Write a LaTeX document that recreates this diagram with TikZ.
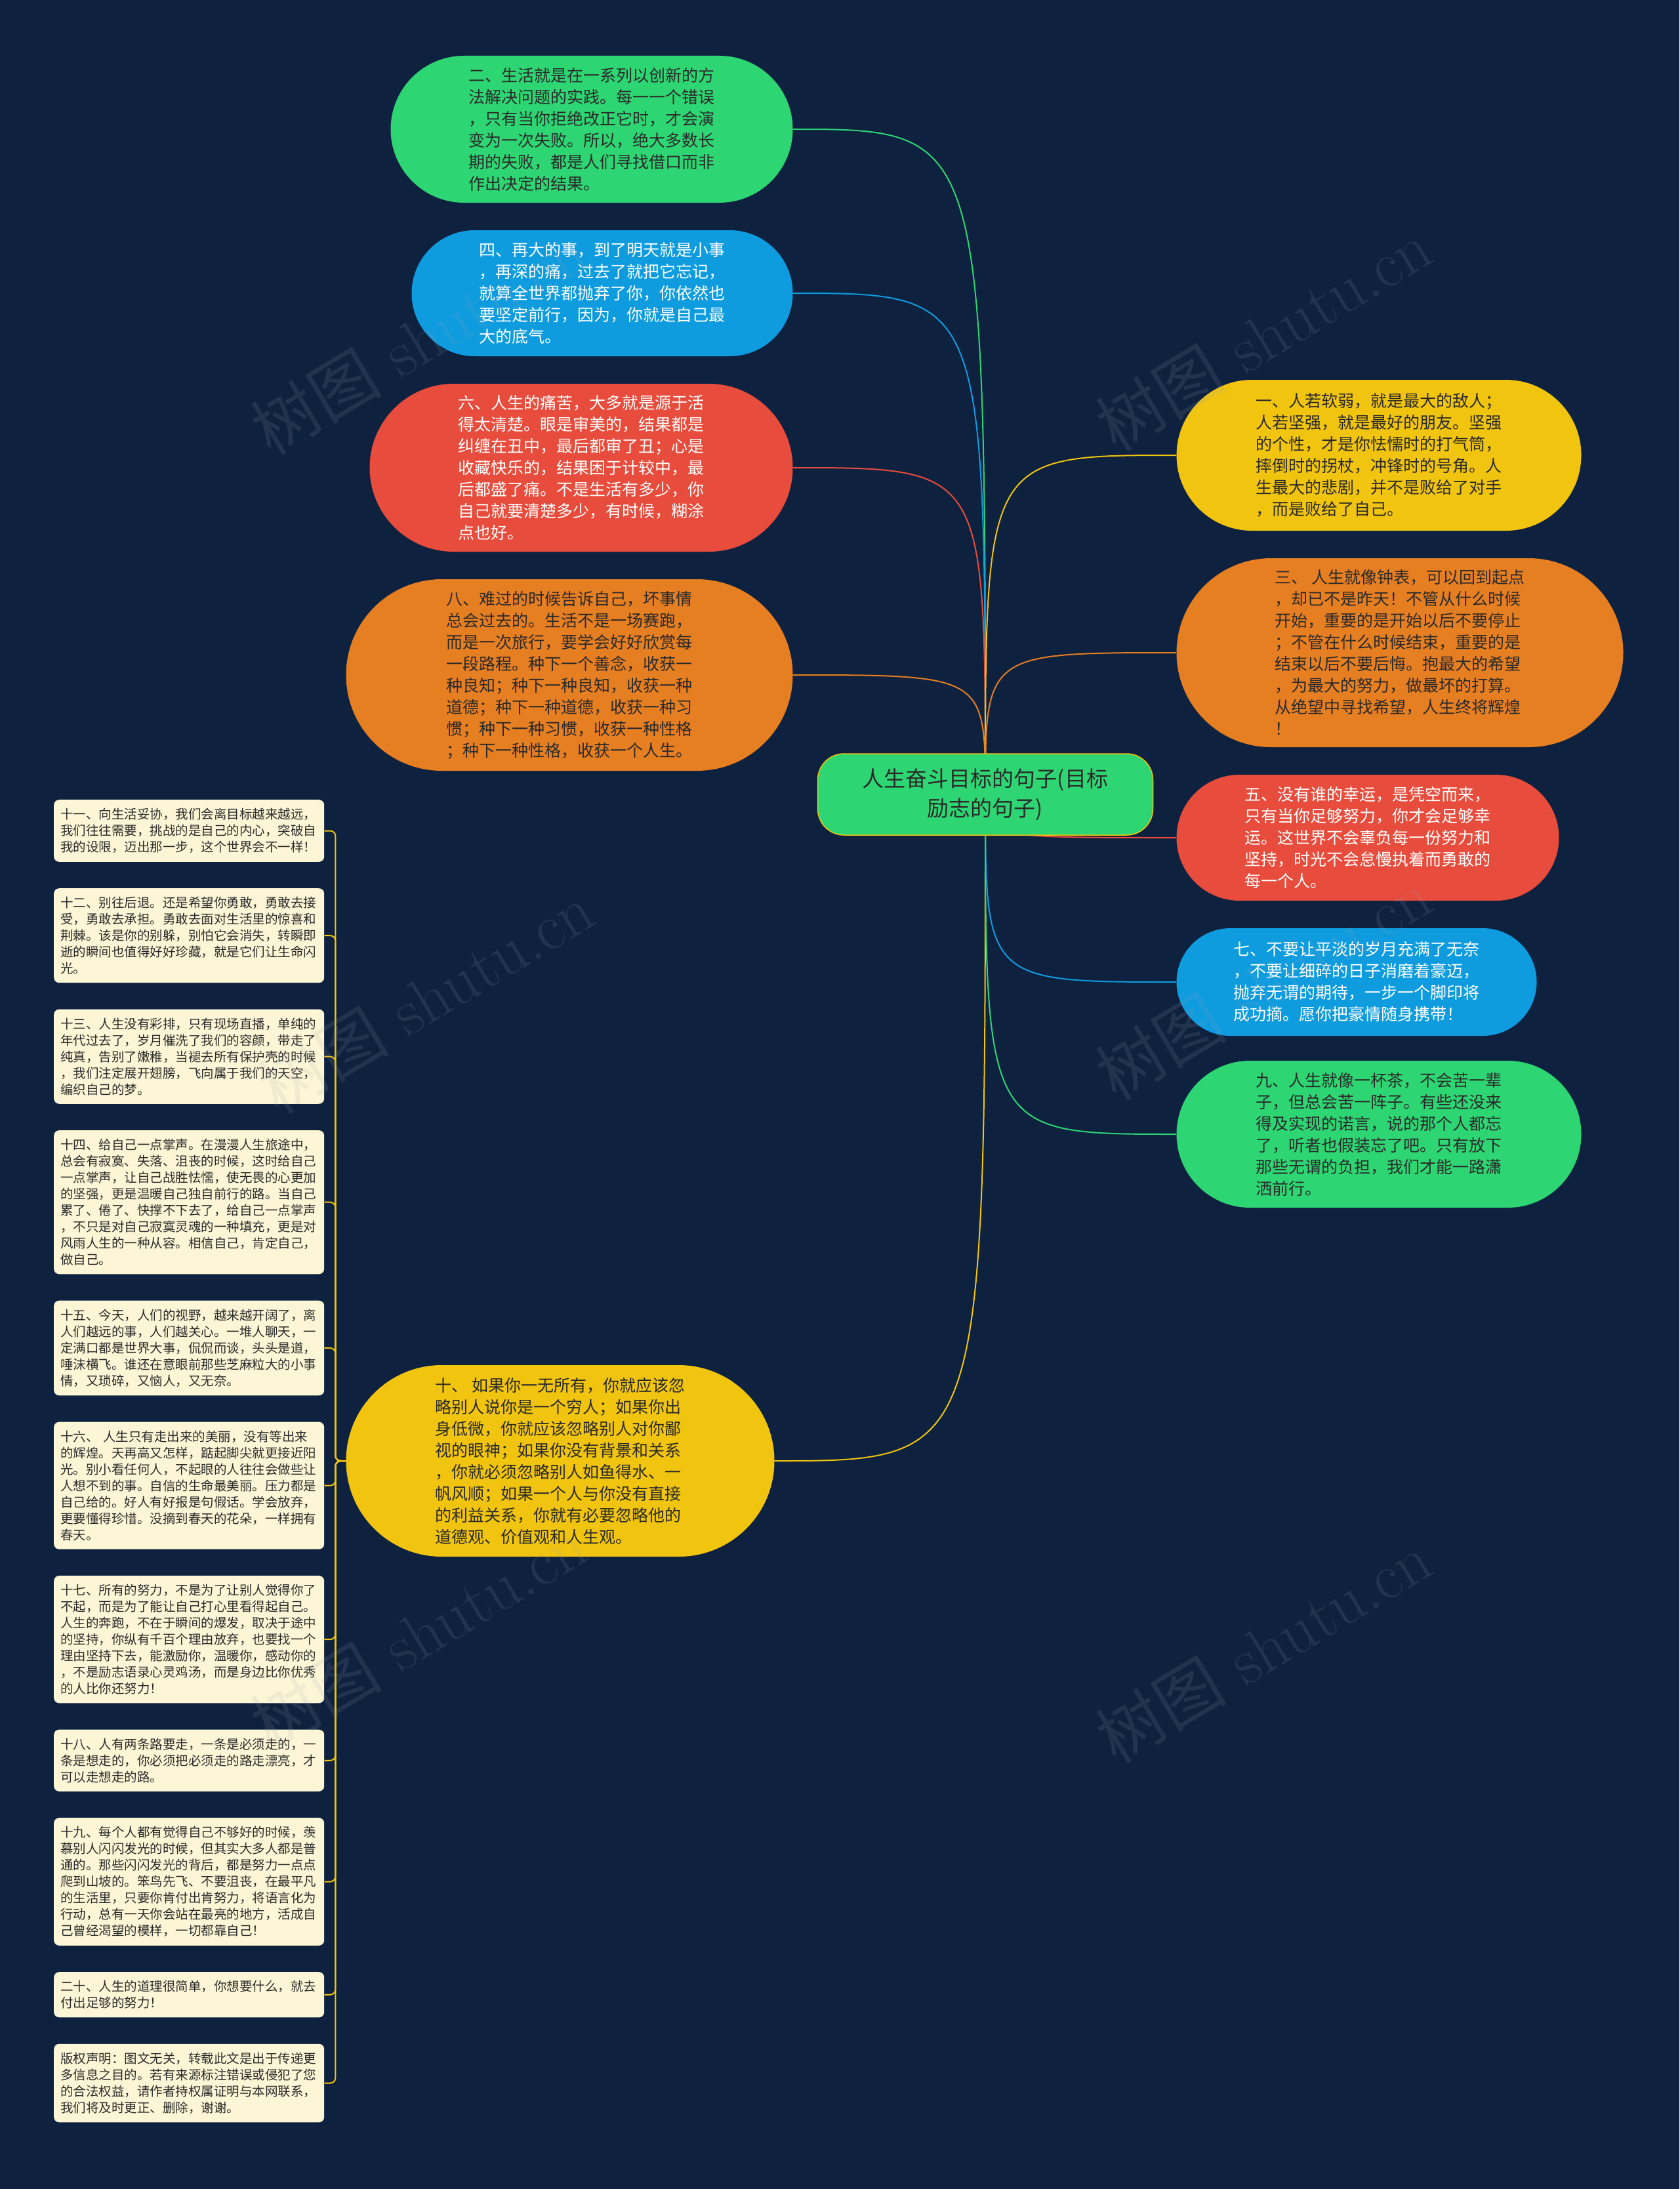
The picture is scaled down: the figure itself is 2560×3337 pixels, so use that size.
\documentclass[tikz,border=0pt]{standalone}
\usepackage{fontspec}
\newfontfamily\cjk{Noto Sans CJK SC}
\usetikzlibrary{positioning}
\definecolor{MyNavy}{HTML}{0E213F}
\definecolor{MyGreen}{HTML}{2ED573}
\definecolor{MyBlue}{HTML}{0E9CDF}
\definecolor{MyRed}{HTML}{E74C3C}
\definecolor{MyOrange}{HTML}{E67E22}
\definecolor{MyYellow}{HTML}{F1C40F}
\definecolor{MyCream}{HTML}{FDF6D6}
\definecolor{MyInk}{HTML}{2A2A2A}
\definecolor{MyMark}{HTML}{9AA3AE}
\pgfdeclarelayer{bg}
\pgfdeclarelayer{links}
\pgfdeclarelayer{marks}
\pgfsetlayers{bg,links,main,marks}

\begin{document}
\begin{tikzpicture}[x=1pt, y=-1pt,
	idea/.style={rounded corners=#1, inner sep=0pt, align=left, font=\cjk\fontsize{25}{33}\selectfont},
	note/.style={fill=MyCream, rounded corners=8pt, text width=392pt, inner xsep=10pt, inner ysep=13pt, align=left, font=\cjk\fontsize{19.5}{25}\selectfont, text=MyInk},
	link/.style={line width=2pt},
	wmark/.style={rotate=31, text=MyMark, text opacity=0.14, font=\fontsize{100}{100}\selectfont}]
	\begin{pgfonlayer}{bg}
		\fill[MyNavy] (0,0) rectangle (2560,3337);
	\end{pgfonlayer}
	\useasboundingbox (0,0) rectangle (2560,3337);
	
	\node[idea=40pt, fill=MyGreen, draw=MyYellow, line width=1.5pt, align=center, font=\cjk\fontsize{33}{45}\selectfont, text=MyInk, minimum width=511pt, minimum height=124pt] (root) at (1502,1211) {人生奋斗目标的句子(目标\\励志的句子)};
	
	% left side
	\node[idea=112pt, fill=MyGreen, text=MyInk, minimum width=613pt, minimum height=224pt] (two) at (902,197) {二、生活就是在一系列以创新的方\\法解决问题的实践。每一一个错误\\，只有当你拒绝改正它时，才会演\\变为一次失败。所以，绝大多数长\\期的失败，都是人们寻找借口而非\\作出决定的结果。};
	\node[idea=96pt, fill=MyBlue, text=white, minimum width=581pt, minimum height=192pt] (four) at (918,447) {四、再大的事，到了明天就是小事\\，再深的痛，过去了就把它忘记，\\就算全世界都抛弃了你，你依然也\\要坚定前行，因为，你就是自己最\\大的底气。};
	\node[idea=128pt, fill=MyRed, text=white, minimum width=645pt, minimum height=256pt] (six) at (886,713) {六、人生的痛苦，大多就是源于活\\得太清楚。眼是审美的，结果都是\\纠缠在丑中，最后都审了丑；心是\\收藏快乐的，结果困于计较中，最\\后都盛了痛。不是生活有多少，你\\自己就要清楚多少，有时候，糊涂\\点也好。};
	\node[idea=146pt, fill=MyOrange, text=MyInk, minimum width=681pt, minimum height=292pt] (eight) at (868,1029) {八、难过的时候告诉自己，坏事情\\总会过去的。生活不是一场赛跑，\\而是一次旅行，要学会好好欣赏每\\一段路程。种下一个善念，收获一\\种良知；种下一种良知，收获一种\\道德；种下一种道德，收获一种习\\惯；种下一种习惯，收获一种性格\\；种下一种性格，收获一个人生。};
	\node[idea=146pt, fill=MyYellow, text=MyInk, minimum width=653pt, minimum height=292pt] (ten) at (854,2227) {十、 如果你一无所有，你就应该忽\\略别人说你是一个穷人；如果你出\\身低微，你就应该忽略别人对你鄙\\视的眼神；如果你没有背景和关系\\，你就必须忽略别人如鱼得水、一\\帆风顺；如果一个人与你没有直接\\的利益关系，你就有必要忽略他的\\道德观、价值观和人生观。};
	
	% right side
	\node[idea=115pt, fill=MyYellow, text=MyInk, minimum width=617pt, minimum height=230pt] (one) at (2102,694) {一、人若软弱，就是最大的敌人；\\人若坚强，就是最好的朋友。坚强\\的个性，才是你怯懦时的打气筒，\\摔倒时的拐杖，冲锋时的号角。人\\生最大的悲剧，并不是败给了对手\\，而是败给了自己。};
	\node[idea=144pt, fill=MyOrange, text=MyInk, minimum width=681pt, minimum height=288pt] (three) at (2134,995) {三、 人生就像钟表，可以回到起点\\，却已不是昨天！不管从什么时候\\开始，重要的是开始以后不要停止\\；不管在什么时候结束，重要的是\\结束以后不要后悔。抱最大的希望\\，为最大的努力，做最坏的打算。\\从绝望中寻找希望，人生终将辉煌\\！};
	\node[idea=96pt, fill=MyRed, text=white, minimum width=583pt, minimum height=192pt] (five) at (2085,1277) {五、没有谁的幸运，是凭空而来，\\只有当你足够努力，你才会足够幸\\运。这世界不会辜负每一份努力和\\坚持，时光不会怠慢执着而勇敢的\\每一个人。};
	\node[idea=82pt, fill=MyBlue, text=white, minimum width=549pt, minimum height=164pt] (seven) at (2068,1497) {七、不要让平淡的岁月充满了无奈\\，不要让细碎的日子消磨着豪迈，\\抛弃无谓的期待，一步一个脚印将\\成功摘。愿你把豪情随身携带！};
	\node[idea=112pt, fill=MyGreen, text=MyInk, minimum width=617pt, minimum height=224pt] (nine) at (2102,1729) {九、人生就像一杯茶，不会苦一辈\\子，但总会苦一阵子。有些还没来\\得及实现的诺言，说的那个人都忘\\了，听者也假装忘了吧。只有放下\\那些无谓的负担，我们才能一路潇\\洒前行。};
	
	% notes under ten
	\node[note, anchor=north west] (n11) at (82,1219) {十一、向生活妥协，我们会离目标越来越远，\\我们往往需要，挑战的是自己的内心，突破自\\我的设限，迈出那一步，这个世界会不一样！};
	\node[note, below=40pt of n11] (n12) {十二、别往后退。还是希望你勇敢，勇敢去接\\受，勇敢去承担。勇敢去面对生活里的惊喜和\\荆棘。该是你的别躲，别怕它会消失，转瞬即\\逝的瞬间也值得好好珍藏，就是它们让生命闪\\光。};
	\node[note, below=40pt of n12] (n13) {十三、人生没有彩排，只有现场直播，单纯的\\年代过去了，岁月催洗了我们的容颜，带走了\\纯真，告别了嫩稚，当褪去所有保护壳的时候\\，我们注定展开翅膀，飞向属于我们的天空，\\编织自己的梦。};
	\node[note, below=40pt of n13] (n14) {十四、给自己一点掌声。在漫漫人生旅途中，\\总会有寂寞、失落、沮丧的时候，这时给自己\\一点掌声，让自己战胜怯懦，使无畏的心更加\\的坚强，更是温暖自己独自前行的路。当自己\\累了、倦了、快撑不下去了，给自己一点掌声\\，不只是对自己寂寞灵魂的一种填充，更是对\\风雨人生的一种从容。相信自己，肯定自己，\\做自己。};
	\node[note, below=40pt of n14] (n15) {十五、今天，人们的视野，越来越开阔了，离\\人们越远的事，人们越关心。一堆人聊天，一\\定满口都是世界大事，侃侃而谈，头头是道，\\唾沫横飞。谁还在意眼前那些芝麻粒大的小事\\情，又琐碎，又恼人，又无奈。};
	\node[note, below=40pt of n15] (n16) {十六、 人生只有走出来的美丽，没有等出来\\的辉煌。天再高又怎样，踮起脚尖就更接近阳\\光。别小看任何人，不起眼的人往往会做些让\\人想不到的事。自信的生命最美丽。压力都是\\自己给的。好人有好报是句假话。学会放弃，\\更要懂得珍惜。没摘到春天的花朵，一样拥有\\春天。};
	\node[note, below=40pt of n16] (n17) {十七、所有的努力，不是为了让别人觉得你了\\不起，而是为了能让自己打心里看得起自己。\\人生的奔跑，不在于瞬间的爆发，取决于途中\\的坚持，你纵有千百个理由放弃，也要找一个\\理由坚持下去，能激励你，温暖你，感动你的\\，不是励志语录心灵鸡汤，而是身边比你优秀\\的人比你还努力！};
	\node[note, below=40pt of n17] (n18) {十八、人有两条路要走，一条是必须走的，一\\条是想走的，你必须把必须走的路走漂亮，才\\可以走想走的路。};
	\node[note, below=40pt of n18] (n19) {十九、每个人都有觉得自己不够好的时候，羡\\慕别人闪闪发光的时候，但其实大多人都是普\\通的。那些闪闪发光的背后，都是努力一点点\\爬到山坡的。笨鸟先飞、不要沮丧，在最平凡\\的生活里，只要你肯付出肯努力，将语言化为\\行动，总有一天你会站在最亮的地方，活成自\\己曾经渴望的模样，一切都靠自己！};
	\node[note, below=40pt of n19] (n20) {二十、人生的道理很简单，你想要什么，就去\\付出足够的努力！};
	\node[note, below=40pt of n20] (copy) {版权声明：图文无关，转载此文是出于传递更\\多信息之目的。若有来源标注错误或侵犯了您\\的合法权益，请作者持权属证明与本网联系，\\我们将及时更正、删除，谢谢。};
	
	\begin{pgfonlayer}{links}
		\draw[link, MyGreen] (root.center) .. controls (root.center |- two.east) .. (two.east);
		\draw[link, MyBlue] (root.center) .. controls (root.center |- four.east) .. (four.east);
		\draw[link, MyRed] (root.center) .. controls (root.center |- six.east) .. (six.east);
		\draw[link, MyOrange] (root.center) .. controls (root.center |- eight.east) .. (eight.east);
		\draw[link, MyYellow] (root.center) .. controls (root.center |- ten.east) .. (ten.east);
%		
		\draw[link, MyYellow] (root.center) .. controls (root.center |- one.west) .. (one.west);
		\draw[link, MyOrange] (root.center) .. controls (root.center |- three.west) .. (three.west);
		\draw[link, MyRed] (root.center) .. controls (root.center |- five.west) .. (five.west);
		\draw[link, MyBlue] (root.center) .. controls (root.center |- seven.west) .. (seven.west);
		\draw[link, MyGreen] (root.center) .. controls (root.center |- nine.west) .. (nine.west);
%		
		\draw[link, MyYellow, rounded corners=8pt] (ten.west) -- ++(-16,0) |- (n11.east);
		\draw[link, MyYellow, rounded corners=8pt] (ten.west) -- ++(-16,0) |- (n12.east);
		\draw[link, MyYellow, rounded corners=8pt] (ten.west) -- ++(-16,0) |- (n13.east);
		\draw[link, MyYellow, rounded corners=8pt] (ten.west) -- ++(-16,0) |- (n14.east);
		\draw[link, MyYellow, rounded corners=8pt] (ten.west) -- ++(-16,0) |- (n15.east);
		\draw[link, MyYellow, rounded corners=8pt] (ten.west) -- ++(-16,0) |- (n16.east);
		\draw[link, MyYellow, rounded corners=8pt] (ten.west) -- ++(-16,0) |- (n17.east);
		\draw[link, MyYellow, rounded corners=8pt] (ten.west) -- ++(-16,0) |- (n18.east);
		\draw[link, MyYellow, rounded corners=8pt] (ten.west) -- ++(-16,0) |- (n19.east);
		\draw[link, MyYellow, rounded corners=8pt] (ten.west) -- ++(-16,0) |- (n20.east);
		\draw[link, MyYellow, rounded corners=8pt] (ten.west) -- ++(-16,0) |- (copy.east);
	\end{pgfonlayer}
	
	% watermarks
	\begin{pgfonlayer}{marks}
		\node[wmark] (wm1) at (638,517) {{\cjk 树图} shutu.cn};
		\node[wmark] (wm2) at (1926,511) {{\cjk 树图} shutu.cn};
		\node[wmark] (wm3) at (649,1521) {{\cjk 树图} shutu.cn};
		\node[wmark] (wm4) at (1926,1500) {{\cjk 树图} shutu.cn};
		\node[wmark] (wm5) at (638,2490) {{\cjk 树图} shutu.cn};
		\node[wmark] (wm6) at (1926,2511) {{\cjk 树图} shutu.cn};
	\end{pgfonlayer}
\end{tikzpicture}
\end{document}
